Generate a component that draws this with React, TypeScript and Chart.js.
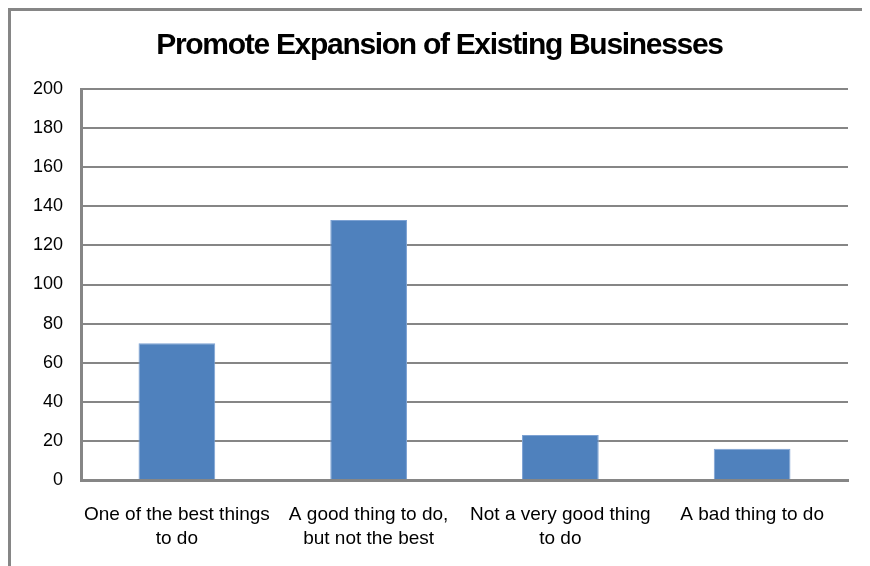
import React, { useEffect, useRef } from "react";
import { Chart, registerables } from "chart.js";

Chart.register(...registerables);

const titleText = "Promote Expansion of Existing Businesses";
const categories: (string | string[])[] = [
  ["One of the best things", "to do"],
  ["A good thing to do,", "but not the best"],
  ["Not a very good thing", "to do"],
  "A bad thing to do",
];
const counts = [70, 133, 23, 16];
const yMin = 0;
const yMax = 200;
const yStep = 20;

const FONT = "'Liberation Sans', Arial, sans-serif";

export default function App() {
  const ref = useRef<HTMLCanvasElement | null>(null);
  useEffect(() => {
    if (!ref.current) return;
    const chart: any = new Chart(ref.current, {
      type: "bar",
      data: {
        labels: categories,
        datasets: [
          {
            data: counts,
            backgroundColor: "#4F81BD",
            borderColor: "#7DA2D3",
            borderWidth: 1,
            categoryPercentage: 1,
            barPercentage: 0.4,
          },
        ],
      },
      options: {
        animation: false,
        responsive: true,
        maintainAspectRatio: false,
        layout: { padding: { left: 0, right: 21, top: 0, bottom: 0 } },
        plugins: {
          legend: { display: false },
          tooltip: { enabled: false },
          title: {
            display: true,
            text: titleText,
            color: "#000",
            font: { family: FONT, size: 30, weight: "bold", lineHeight: 1.2 },
            padding: { top: 17, bottom: 25 },
          },
        },
        scales: {
          x: {
            grid: { display: false, drawTicks: false },
            border: { display: true, color: "#868686", width: 3 },
            ticks: {
              color: "#000",
              padding: 22,
              maxRotation: 0,
              autoSkip: false,
              font: { family: FONT, size: 19, lineHeight: 1.3 },
            },
            afterFit: (s: any) => {
              s.height = 111;
            },
          },
          y: {
            min: yMin,
            max: yMax,
            grid: { color: "#868686", lineWidth: 2, drawTicks: false },
            border: { display: true, color: "#868686", width: 3 },
            ticks: {
              stepSize: yStep,
              color: "#000",
              padding: 18,
              font: { family: FONT, size: 18 },
            },
            afterFit: (s: any) => {
              s.width = 70;
            },
          },
        },
      },
    });
    const tb = chart.titleBlock;
    if (tb) {
      const orig = tb.draw.bind(tb);
      tb.draw = () => {
        const ctx = chart.ctx;
        ctx.save();
        ctx.letterSpacing = "-1.3px";
        ctx.translate(10, 0);
        orig();
        ctx.restore();
      };
      chart.draw();
    }
    return () => chart.destroy();
  }, []);
  return (
    <div
      style={{
        width: 858,
        height: 590,
        borderLeft: "3px solid #868686",
        borderTop: "3px solid #868686",
        borderRight: "1px solid #D9D9D9",
        background: "#fff",
      }}
    >
      <div style={{ position: "relative", width: 858, height: 580 }}>
        <canvas ref={ref} />
      </div>
    </div>
  );
}
